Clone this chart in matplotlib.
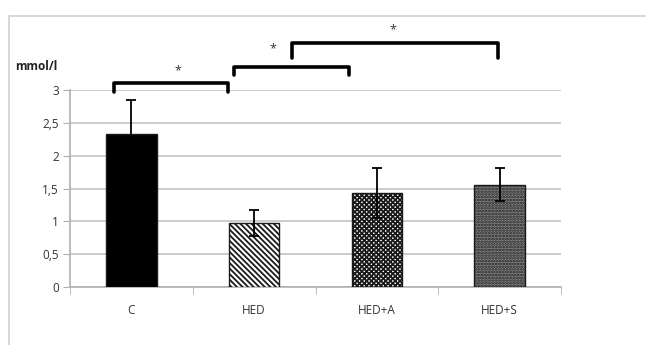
import matplotlib.pyplot as plt
import matplotlib as mpl
import numpy as np
from matplotlib.patches import Rectangle

# data
groups = ["C", "HED", "HED+A", "HED+S"]
means = [2.33, 0.97, 1.43, 1.56]
errs = [0.52, 0.20, 0.38, 0.25]
yticks = [0, 0.5, 1, 1.5, 2, 2.5, 3]
ytick_labels = ["0", "0,5", "1", "1,5", "2", "2,5", "3"]

# significance brackets: (x_left, x_right, y_top, y_tip, star_x, star_y)
brackets = [
    (-0.14, 0.79, 3.11, 2.97, 0.375, 3.30),
    (0.84, 1.77, 3.35, 3.23, 1.15, 3.62),
    (1.31, 2.99, 3.72, 3.49, 2.13, 3.91),
]

plt.rcParams["font.family"] = ["Open Sans", "DejaVu Sans"]
mpl.rcParams["hatch.linewidth"] = 1.3

fig = plt.figure(figsize=(6.46, 3.45), dpi=100)
W, H = 646, 345
ax = fig.add_axes([70 / W, 1 - 287 / H, 491 / W, (287 - 90) / H])

# outer chart border
fig.patches.append(Rectangle((9 / W, -0.1), 1.2, 1 - 16 / H + 0.1,
                             transform=fig.transFigure, fill=False,
                             edgecolor="#d0d0d0", linewidth=1.2))

x = np.arange(len(groups))
styles = [
    dict(color="black", hatch=None),
    dict(color="white", hatch="\\\\\\\\\\\\"),
    dict(color="white", hatch="xxxxxxx"),
    dict(color="#8c8c8c", hatch="......"),
]
for i, st in enumerate(styles):
    ax.bar(x[i], means[i], width=0.41, color=st["color"], hatch=st["hatch"],
           edgecolor="#1a1a1a", linewidth=1.0, zorder=3)
ax.errorbar(x, means, yerr=errs, fmt="none", ecolor="black",
            elinewidth=1.3, capsize=3.5, capthick=1.3, zorder=4)

ax.set_xlim(-0.5, 3.5)
ax.set_ylim(0, 3)
ax.set_yticks(yticks)
ax.set_yticklabels(ytick_labels)
ax.set_xticks(x)
ax.set_xticklabels(groups)
ax.set_xticks(np.arange(-0.5, 4, 1), minor=True)
ax.tick_params(axis="x", which="major", length=0, pad=12, labelsize=8.5,
               colors="#333333")
ax.tick_params(axis="x", which="minor", length=5, color="#b0b0b0")
ax.tick_params(axis="y", length=5, color="#b0b0b0", labelsize=8.5,
               labelcolor="#333333", pad=3)
ax.yaxis.grid(True, color="#c4c4c4", linewidth=1.2, zorder=0)
ax.set_axisbelow(True)
for s in ["top", "right"]:
    ax.spines[s].set_visible(False)
for s in ["left", "bottom"]:
    ax.spines[s].set_color("#b0b0b0")
    ax.spines[s].set_linewidth(1.2)

for xl, xr, yt, ytip, sx, sy in brackets:
    ax.plot([xl, xl, xr, xr], [ytip, yt, yt, ytip], color="black",
            linewidth=2.6, solid_joinstyle="round", solid_capstyle="round",
            clip_on=False, zorder=5)
    ax.text(sx, sy, "*", ha="center", va="center", fontsize=9,
            color="#333333", clip_on=False)

fig.text(15 / W, 1 - 66 / H, "mmol/l", fontsize=8.5, fontweight="bold",
         ha="left", va="center", color="#222222")

fig.savefig("out.png", dpi=100)
